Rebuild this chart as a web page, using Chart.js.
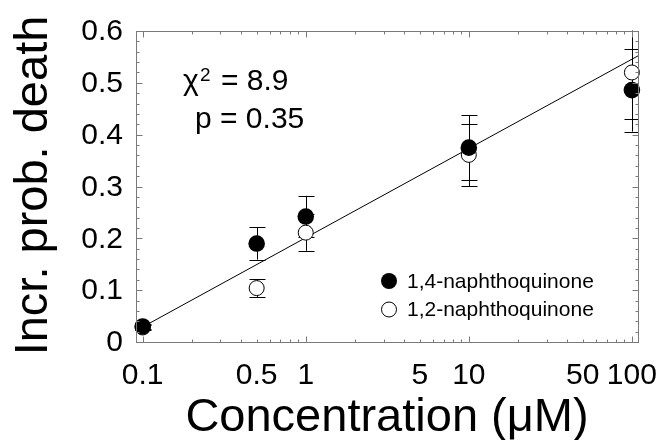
<!DOCTYPE html>
<html><head><meta charset="utf-8">
<script src="https://cdn.jsdelivr.net/npm/chart.js@4.4.0/dist/chart.umd.min.js"></script>
<style>html,body{margin:0;padding:0;background:#fff}#wrap{width:661px;height:440px}</style>
</head><body><div id="wrap"><canvas id="c"></canvas></div>
<script>
// ---- data ----
const concentrations = [0.1, 0.5, 1, 10, 100];
const nq14 = [0.030, 0.190, 0.242, 0.375, 0.486];
const nq14Err = [0.004, 0.031, 0.040, 0.063, 0.080];
const nq12 = [0.028, 0.104, 0.211, 0.361, 0.520];
const nq12Err = [0.004, 0.017, 0.035, 0.060, 0.090];
const fitX = [0.1, 109];
const fitY = [0.029, 0.552];
const xTickLabels = [0.1, 0.5, 1, 5, 10, 50, 100];
const yTickLabels = [0, 0.1, 0.2, 0.3, 0.4, 0.5, 0.6];
const seriesNames = ['1,4-naphthoquinone', '1,2-naphthoquinone'];
const chiSymbol = '\u03c7';
const chiExponent = '2';
const chiValueText = '= 8.9';
const pValueText = 'p = 0.35';
const xTitle = 'Concentration (\u03bcM)';
const yTitle = 'Incr. prob. death';

const FONT = '"Liberation Sans", Arial, Helvetica, sans-serif';
const AXIS_COL = '#7a7a7a';

const pts = (xs, ys) => xs.map((x, i) => ({x: x, y: ys[i]}));

const errorBars = {
  id: 'errorBars',
  beforeDatasetsDraw(chart) {
    const {ctx, chartArea: a, scales: {x, y}} = chart;
    ctx.save();
    ctx.beginPath(); ctx.rect(a.left, a.top - 0.5, a.right - a.left, a.bottom - a.top + 1); ctx.clip();
    ctx.strokeStyle = '#000'; ctx.lineWidth = 1;
    [[nq12, nq12Err], [nq14, nq14Err]].forEach(([vals, errs]) => {
      concentrations.forEach((c, i) => {
        const px = Math.round(x.getPixelForValue(c)) + 0.5;
        const top = y.getPixelForValue(vals[i] + errs[i]);
        const bot = y.getPixelForValue(vals[i] - errs[i]);
        ctx.beginPath();
        ctx.moveTo(px, top); ctx.lineTo(px, bot);
        ctx.moveTo(px - 8, Math.round(top) + 0.5); ctx.lineTo(px + 8, Math.round(top) + 0.5);
        ctx.moveTo(px - 8, Math.round(bot) + 0.5); ctx.lineTo(px + 8, Math.round(bot) + 0.5);
        ctx.stroke();
      });
    });
    ctx.restore();
  }
};

const decor = {
  id: 'decor',
  afterDraw(chart) {
    const {ctx, chartArea: a, scales: {x, y}} = chart;
    ctx.save();
    // frame
    ctx.strokeStyle = AXIS_COL; ctx.lineWidth = 1;
    const L = Math.round(a.left) + 0.5, R = Math.round(a.right) + 0.5,
          T = Math.round(a.top) + 0.5, B = Math.round(a.bottom) + 0.5;
    ctx.strokeRect(L, T, R - L, B - T);
    // x ticks (log major + minor), inward on bottom and top
    ctx.beginPath();
    for (let d = -2; d <= 2; d++) {
      for (let m = 1; m <= 9; m++) {
        const v = m * Math.pow(10, d);
        if (v < x.min || v > x.max) continue;
        const px = Math.round(x.getPixelForValue(v)) + 0.5;
        const len = (m === 1) ? 6 : 3;
        ctx.moveTo(px, B); ctx.lineTo(px, B - len);
        ctx.moveTo(px, T); ctx.lineTo(px, T + len);
      }
    }
    // y ticks
    for (let k = 0; k <= 30; k++) {
      const v = k * 0.02;
      const py = Math.round(y.getPixelForValue(v)) + 0.5;
      const len = (k % 5 === 0) ? 6 : 3;
      ctx.moveTo(L, py); ctx.lineTo(L + len, py);
      ctx.moveTo(R, py); ctx.lineTo(R - len, py);
    }
    ctx.stroke();

    ctx.fillStyle = '#000';
    // y tick labels
    ctx.font = '30px ' + FONT;
    ctx.textAlign = 'right'; ctx.textBaseline = 'middle';
    yTickLabels.forEach(v => {
      ctx.fillText(String(v), a.left - 13, y.getPixelForValue(v) + 1);
    });
    // x tick labels
    ctx.textAlign = 'center'; ctx.textBaseline = 'alphabetic';
    xTickLabels.forEach(v => {
      ctx.fillText(String(v), x.getPixelForValue(v), 384);
    });
    // axis titles
    ctx.font = '47px ' + FONT;
    ctx.fillText(xTitle, (a.left + a.right) / 2, 431);
    ctx.save();
    ctx.translate(47, (a.top + a.bottom) / 2 - 1);
    ctx.rotate(-Math.PI / 2);
    ctx.textAlign = 'center';
    ctx.fillText(yTitle, 0, 0);
    ctx.restore();
    // annotation
    ctx.textAlign = 'left';
    ctx.font = '30px ' + FONT;
    ctx.fillText(chiSymbol, 183, 90);
    ctx.font = '19px ' + FONT;
    ctx.fillText(chiExponent, 200, 81);
    ctx.font = '30px ' + FONT;
    ctx.fillText(chiValueText, 221, 90);
    ctx.fillText(pValueText, 195, 128);
    // legend
    ctx.lineWidth = 1; ctx.strokeStyle = '#000';
    ctx.beginPath(); ctx.arc(389, 281, 8, 0, Math.PI * 2); ctx.fillStyle = '#000'; ctx.fill();
    ctx.beginPath(); ctx.arc(389, 309.5, 7.5, 0, Math.PI * 2); ctx.fillStyle = '#fff'; ctx.fill(); ctx.stroke();
    ctx.fillStyle = '#000';
    ctx.font = '21px ' + FONT;
    ctx.fillText(seriesNames[0], 407, 288);
    ctx.fillText(seriesNames[1], 407, 316);
    ctx.restore();
  }
};

new Chart(document.getElementById('c'), {
  type: 'scatter',
  data: {
    datasets: [
      {label: 'fit', data: pts(fitX, fitY), showLine: true, pointRadius: 0,
       borderColor: '#000', borderWidth: 1, order: 3},
      {label: seriesNames[1], data: pts(concentrations, nq12), pointRadius: 7.5,
       pointBackgroundColor: '#fff', pointBorderColor: '#000', pointBorderWidth: 1,
       showLine: false, clip: false, order: 2},
      {label: seriesNames[0], data: pts(concentrations, nq14), pointRadius: 8.3,
       pointBackgroundColor: '#000', pointBorderColor: '#000', pointBorderWidth: 0,
       showLine: false, clip: false, order: 1}
    ]
  },
  options: {
    responsive: true, maintainAspectRatio: false, animation: false,
    layout: {padding: {left: 136, right: 23, top: 31, bottom: 98}},
    plugins: {legend: {display: false}, tooltip: {enabled: false}},
    scales: {
      x: {type: 'logarithmic', min: 0.091, max: 109, display: false},
      y: {type: 'linear', min: 0, max: 0.6, display: false}
    }
  },
  plugins: [errorBars, decor]
});
</script>
</body></html>
